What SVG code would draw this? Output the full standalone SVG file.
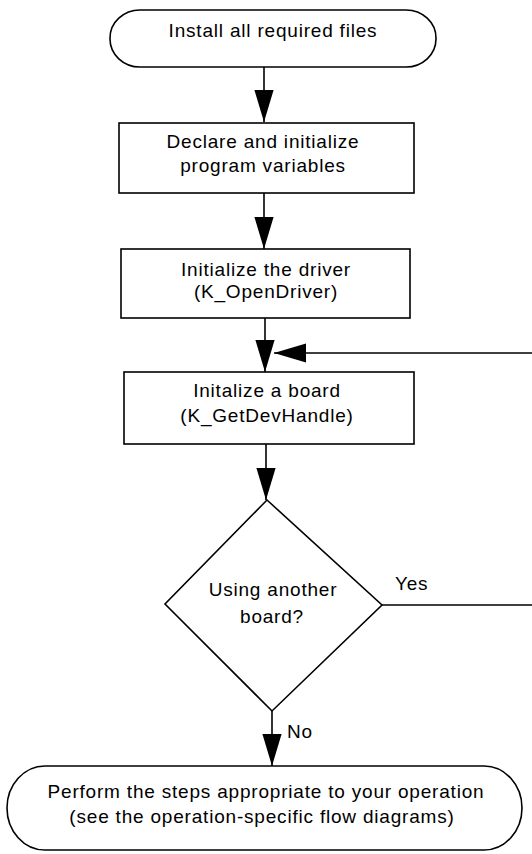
<svg xmlns="http://www.w3.org/2000/svg" width="532" height="854" viewBox="0 0 532 854">
<style>
  .shape { fill: #ffffff; stroke: #000000; stroke-width: 1.6; }
  .conn { fill: none; stroke: #000000; stroke-width: 1.6; }
  text { font-family: "Liberation Sans", Arial, Helvetica, sans-serif; font-size: 19px; letter-spacing: 0.8px; fill: #000000; }
  .c { text-anchor: middle; }
</style>
<defs>
  <marker id="arrow" markerUnits="userSpaceOnUse" markerWidth="32" markerHeight="20" viewBox="0 0 30 18" refX="30" refY="9" orient="auto">
    <path d="M0,0 L30,9 L0,18 Z" fill="#000000"/>
  </marker>
</defs>
<rect width="532" height="854" fill="#ffffff"/>

<g id="connectors">
  <line class="conn" x1="264" y1="67" x2="264" y2="122" marker-end="url(#arrow)"/>
  <line class="conn" x1="264" y1="193" x2="264" y2="249" marker-end="url(#arrow)"/>
  <line class="conn" x1="265" y1="318" x2="265" y2="372" marker-end="url(#arrow)"/>
  <line class="conn" x1="266" y1="444" x2="266" y2="500" marker-end="url(#arrow)"/>
  <line class="conn" x1="272" y1="711" x2="272" y2="766" marker-end="url(#arrow)"/>
  <path id="yes-loop" class="conn" d="M382,605 L534,605 L534,353 L274,353" marker-end="url(#arrow)"/>
  <text x="395" y="590">Yes</text>
  <text x="287" y="738">No</text>
</g>

<g id="start">
  <rect class="shape" x="110" y="10" width="326" height="57" rx="30" ry="28"/>
  <text class="c" x="273" y="37">Install all required files</text>
</g>

<g id="declare">
  <rect class="shape" x="119" y="123" width="295" height="70"/>
  <text class="c" x="263" y="148">Declare and initialize</text>
  <text class="c" x="263" y="172">program variables</text>
</g>

<g id="open-driver">
  <rect class="shape" x="121" y="249" width="289" height="69"/>
  <text class="c" x="266" y="276">Initialize the driver</text>
  <text class="c" x="266" y="298">(K_OpenDriver)</text>
</g>

<g id="get-dev-handle">
  <rect class="shape" x="124" y="372" width="290" height="72"/>
  <text class="c" x="267" y="397">Initalize a board</text>
  <text class="c" x="267" y="422">(K_GetDevHandle)</text>
</g>

<g id="decision">
  <polygon class="shape" points="267,500 382,605 272,711 165,604"/>
  <text class="c" x="273" y="596">Using another</text>
  <text class="c" x="272" y="623">board?</text>
</g>

<g id="perform">
  <rect class="shape" x="7" y="766" width="515" height="84" rx="38" ry="42"/>
  <text class="c" x="266" y="798">Perform the steps appropriate to your operation</text>
  <text class="c" x="262" y="823">(see the operation-specific flow diagrams)</text>
</g>
</svg>
